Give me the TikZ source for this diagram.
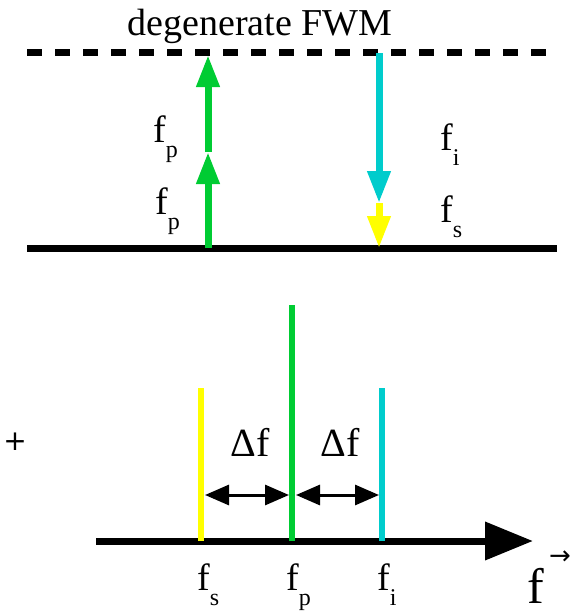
\documentclass[tikz,border=0pt]{standalone}
\usepackage{fontspec}
\setmainfont{Liberation Serif}
\newfontfamily\symfont{DejaVu Sans}
\usetikzlibrary{arrows.meta}
\definecolor{pgreen}{RGB}{0,204,51}
\definecolor{pcyan}{RGB}{0,204,204}
\definecolor{pyellow}{RGB}{255,255,0}
\newcommand\sublbl[1]{f\raisebox{-15pt}{\fontsize{24}{24}\selectfont #1}}
\tikzset{
  level/.style={line width=7pt},
  vbig/.style={line width=7pt,-{Triangle[length=32pt,width=22pt]}},
  line/.style={line width=6pt},
  gap/.style={line width=3pt,{Triangle[length=24pt,width=20pt]}-{Triangle[length=24pt,width=20pt]}},
  lbl/.style={inner sep=0pt,anchor=base west,font=\fontsize{38}{38}\selectfont},
}
\begin{document}
\begin{tikzpicture}[x=1pt,y=-1pt]
\useasboundingbox (0,0) rectangle (572,616);
% title
\node[inner sep=0pt,anchor=base,font=\fontsize{38}{38}\selectfont] (title) at (260,35) {degenerate FWM};
% levels
\coordinate (vl) at (27,52); \coordinate (vr) at (557,52);
\coordinate (gl) at (27,248); \coordinate (gr) at (557,248);
\draw[level,dash pattern=on 15pt off 13pt] (vl) -- (vr);
\draw[level] (gl) -- (gr);
% pump arrows
\coordinate (p0) at (208,248); \coordinate (p1) at (208,152); \coordinate (p2) at (208,55);
\draw[vbig,pgreen] (p0) -- (p1);
\draw[vbig,pgreen] (p1) -- (p2);
% idler / signal arrows
\coordinate (i0) at (379,53); \coordinate (i1) at (379,203); \coordinate (i2) at (379,248);
\draw[vbig,pyellow] (i1) -- (i2);
\draw[vbig,pcyan] (i0) -- (i1);
% labels top
\node[lbl] (fp1) at (153,142) {\sublbl{p}};
\node[lbl] (fp2) at (155,214) {\sublbl{p}};
\node[lbl] (fi) at (440,150) {\sublbl{i}};
\node[lbl] (fs) at (440,222) {\sublbl{s}};
% bottom spectrum
\node[inner sep=0pt,font=\symfont\fontsize{28}{28}\selectfont] (plus) at (15,442) {+};
\coordinate (a0) at (96,541); \coordinate (a1) at (533,541);
\draw[line width=7pt,-{Triangle[length=48pt,width=37pt]}] (a0) -- (a1);
\coordinate (sb) at (201,541); \coordinate (st) at (201,388);
\coordinate (pb) at (292,541); \coordinate (pt) at (292,305);
\coordinate (ib) at (382,541); \coordinate (it) at (382,388);
\draw[line,pyellow] (sb) -- (st);
\draw[line,pgreen] (pb) -- (pt);
\draw[line,pcyan] (ib) -- (it);
\coordinate (d1) at (205,495); \coordinate (d2) at (289,495);
\coordinate (d3) at (296,495); \coordinate (d4) at (379,495);
\draw[gap] (d1) -- (d2);
\draw[gap] (d3) -- (d4);
\node[inner sep=0pt,anchor=base,font=\fontsize{40}{40}\selectfont] (df1) at (250,456) {Δf};
\node[inner sep=0pt,anchor=base,font=\fontsize{40}{40}\selectfont] (df2) at (340,456) {Δf};
\node[lbl] (bs) at (197,590) {\sublbl{s}};
\node[lbl] (bp) at (286,590) {\sublbl{p}};
\node[lbl] (bi) at (377,590) {\sublbl{i}};
\node[inner sep=0pt,anchor=base west,font=\fontsize{50}{50}\selectfont] (fax) at (527,603) {f};
\node[inner sep=0pt,anchor=base west,font=\symfont\fontsize{26}{26}\selectfont] (farr) at (549,564) {→};
\end{tikzpicture}
\end{document}
